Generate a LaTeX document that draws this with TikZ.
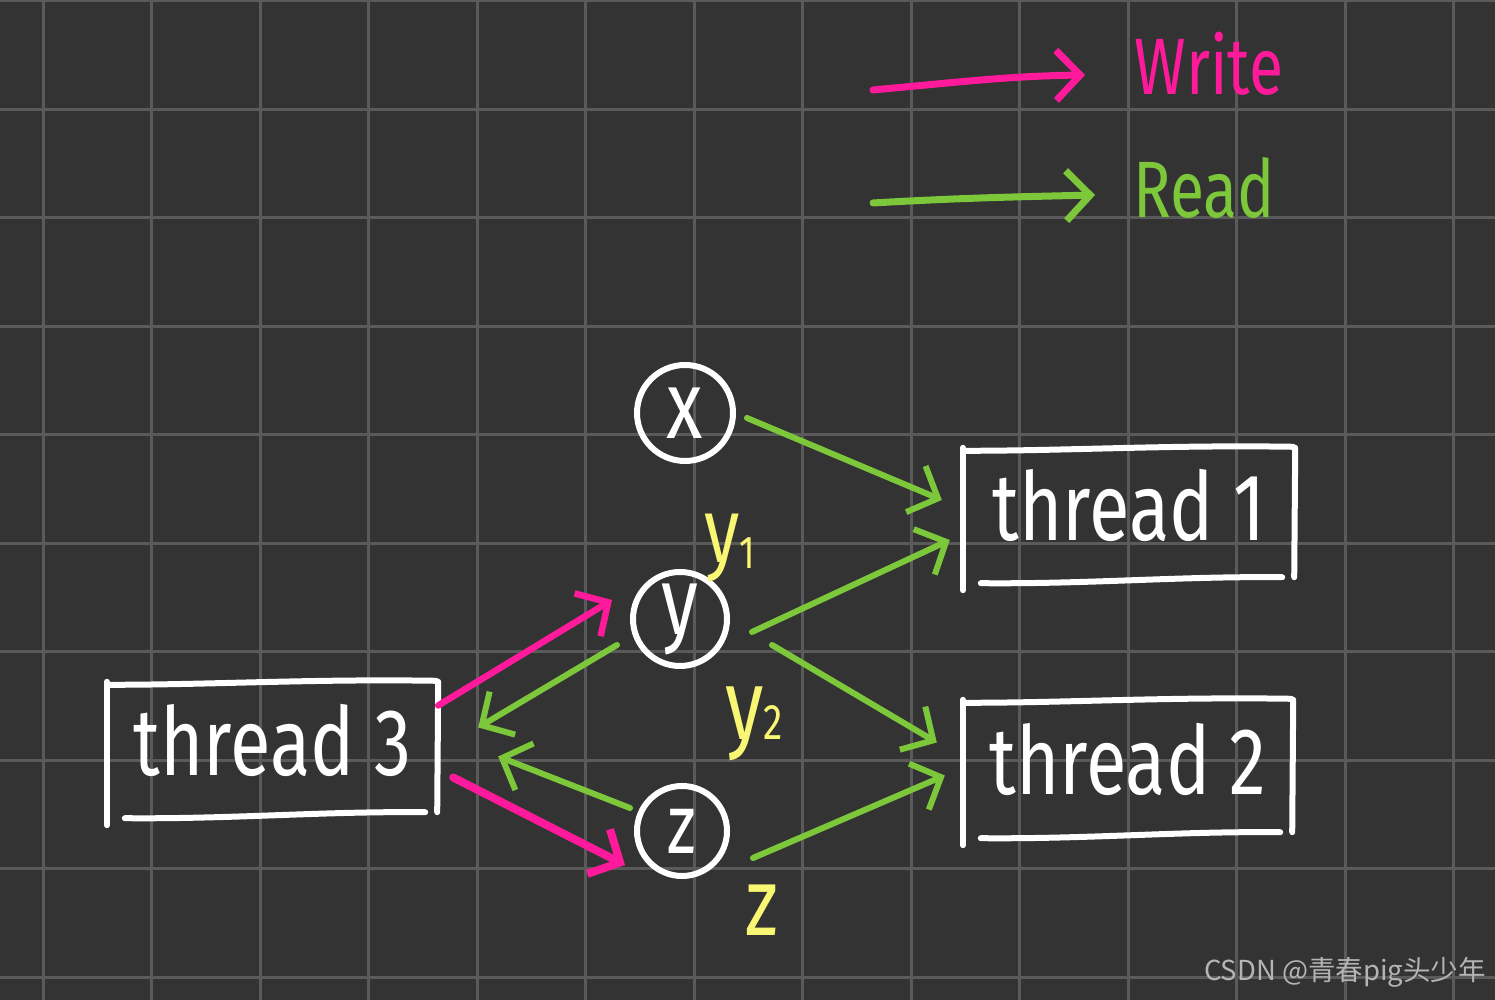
\documentclass[tikz,border=0pt]{standalone}
\usepackage{fontspec}
\setmainfont{Fira Sans}
\newfontfamily\hand[FakeStretch=0.78]{Fira Sans}
\newfontfamily\cjk{Noto Sans CJK SC}
\usetikzlibrary{arrows.meta,calc}
\definecolor{bg}{HTML}{333333}
\definecolor{gridc}{HTML}{5A5A5A}
\definecolor{pinkc}{HTML}{FF1A9C}
\definecolor{greenc}{HTML}{7CC73A}
\definecolor{yellowc}{HTML}{F8F672}
\definecolor{wmark}{HTML}{B4B4B4}
\tikzset{
  gridline/.style={gridc, line width=3pt},
  wline/.style={white, line width=6pt, line cap=round},
  circ/.style={circle, draw=white, line width=6pt, text=white, inner sep=0pt, font=\hand\fontsize{96}{96}\selectfont},
  tbox/.style={rectangle, inner sep=0pt, text=white, text depth=28pt, font=\hand\fontsize{95}{95}\selectfont},
  ylabel/.style={text=yellowc, inner sep=0pt, font=\hand\fontsize{92}{92}\selectfont},
  tipb/.style={-{Straight Barb[length=24pt,width=50pt]}},
  rd/.style={greenc, line width=6pt, line cap=round, tipb},
  wr/.style={pinkc, line width=6.5pt, line cap=round, tipb},
}
\newcommand\sketchbox[1]{%
  \draw[wline] (#1.north west) -- (#1.south west);
  \draw[wline] ($(#1.north west)+(3,-3)$) .. controls ($(#1.north)+(-60,-3)$) and ($(#1.north)+(40,3)$) .. ($(#1.north east)+(-2,1)$);
  \draw[wline] (#1.north east) -- ($(#1.south east)+(-1,13)$);
  \draw[wline] ($(#1.south west)+(18,7)$) .. controls ($(#1.south)+(-40,6)$) and ($(#1.south)+(50,14)$) .. ($(#1.south east)+(-13,13)$);
}
\begin{document}
\begin{tikzpicture}[x=1pt,y=1pt]
\fill[bg] (0,0) rectangle (1495,1000);
\useasboundingbox (0,0) rectangle (1495,1000);
\foreach \i in {0,...,13} \draw[gridline] ({43+108.5*\i},0) -- ++(0,1000);
\foreach \j in {0,...,9} \draw[gridline] (0,{999-108.5*\j}) -- ++(1495,0);

% legend
\coordinate (w0) at (873,910);
\coordinate (w1) at (1085,925);
\coordinate (r0) at (873,797);
\coordinate (r1) at (1095,805);
\draw[wr, line width=7pt] (w0) .. controls (960,918) and (1010,924) .. (w1);
\draw[rd, line width=7pt] (r0) .. controls (960,802) and (1010,803) .. (r1);
\node[text=pinkc, inner sep=0pt, font=\hand\fontsize{80}{80}\selectfont] (lw) at (1209,936) {Write};
\node[text=greenc, inner sep=0pt, font=\hand\fontsize{80}{80}\selectfont] (lr) at (1204,812) {Read};

% variables
\node[circ, minimum size=96] (xc) at (685,587) {x};
\node[circ, minimum size=94] (yc) at (680,381) {y};
\node[circ, minimum size=90, font=\hand\fontsize{84}{84}\selectfont] (zc) at (682,169) {z};

% threads
\node[tbox, minimum width=332, minimum height=142] (t1) at (1129,481) {thread 1};
\node[tbox, minimum width=330, minimum height=145] (t2) at (1128,227.5) {thread 2};
\node[tbox, minimum width=331, minimum height=143] (t3) at (272.5,246.5) {thread 3};
\sketchbox{t1}
\sketchbox{t2}
\sketchbox{t3}

% labels
\node[ylabel] (ly1) at (730,452) {y\raisebox{-6pt}{\fontsize{46}{46}\selectfont 1}};
\node[ylabel, font=\hand\fontsize{100}{100}\selectfont] (ly2) at (754,276) {y\fontsize{50}{50}\selectfont 2};
\node[ylabel, font=\hand\fontsize{96}{96}\selectfont] (lz) at (762,90) {z};

% reads
\draw[rd] ($(xc.center)+(62,-5)$) -- ($(t1.west)+(-21,19)$);
\draw[rd] ($(yc.center)+(72,-13)$) -- ($(t1.west)+(-13,-21)$);
\draw[rd] ($(yc.center)+(92,-26)$) -- ($(t2.west)+(-26,30)$);
\draw[rd] ($(zc.center)+(71,-27)$) -- ($(t2.west)+(-18,-3)$);
\draw[rd] ($(yc.center)+(-63,-26)$) -- ($(t3.east)+(40,26)$);
\draw[rd] ($(zc.center)+(-52,23)$) -- ($(t3.east)+(60,-3)$);
% writes
\draw[wr] ($(t3.east)+(0,48)$) -- ($(yc.center)+(-68,19)$);
\draw[wr, line width=8pt] ($(t3.east)+(15,-24)$) -- ($(zc.center)+(-57,-34)$);

% watermark
\node[text=wmark, inner sep=0pt, font=\cjk\fontsize{27.5}{27.5}\selectfont] (wm) at (1345,28) {CSDN @青春pig头少年};
\end{tikzpicture}
\end{document}
